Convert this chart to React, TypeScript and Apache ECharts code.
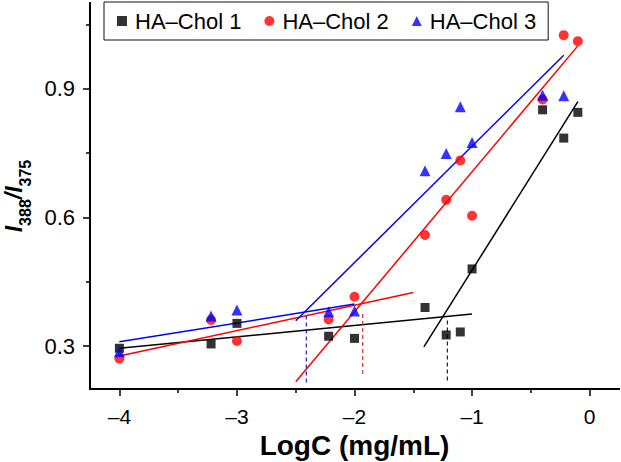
import React, { useEffect, useRef } from "react";
import * as echarts from "echarts";

// ---- data ----
const logC = [-4, -3.22, -3, -2.22, -2, -1.4, -1.22, -1.1, -1, -0.4, -0.22, -0.1];
const chol1 = [0.295, 0.305, 0.353, 0.323, 0.318, 0.39, 0.326, 0.333, 0.48, 0.851, 0.785, 0.845];
const chol2 = [0.271, 0.361, 0.312, 0.362, 0.415, 0.559, 0.641, 0.733, 0.604, 0.875, 1.025, 1.011];
const chol3 = [0.287, 0.37, 0.384, 0.38, 0.382, 0.709, 0.749, 0.858, 0.775, 0.885, 0.884, null];

const seriesNames = ["HA\u2013Chol 1", "HA\u2013Chol 2", "HA\u2013Chol 3"];

// linear fits (start / end)
const fit1Low = [[-4, 0.295], [-1, 0.375]];
const fit1High = [[-1.41, 0.298], [-0.1, 0.87]];
const fit2Low = [[-4, 0.277], [-1.5, 0.425]];
const fit2High = [[-2.5, 0.217], [-0.1, 1.0]];
const fit3Low = [[-4, 0.31], [-2, 0.398]];
const fit3High = [[-2.5, 0.359], [-0.22, 0.978]];

// dashed CMC markers
const cmc1 = [[-1.21, 0.22], [-1.21, 0.365]];
const cmc2 = [[-1.93, 0.235], [-1.93, 0.38]];
const cmc3 = [[-2.41, 0.215], [-2.41, 0.377]];

const xTicks = [-4, -3, -2, -1, 0];
const xMinorTicks = [-3.5, -2.5, -1.5, -0.5];
const yTicks = [0.3, 0.6, 0.9];
const yMinorTicks = [0.45, 0.75, 1.05];

const colors = ["#000000", "#ff0000", "#0000ff"];
const dashColors = ["#222222", "#d03030", "#2020c0"];
const symbols = ["rect", "circle", "triangle"];
const symbolSizes = [9, 10, 11];

const FONT = "'Liberation Sans', Arial, Helvetica, sans-serif";

export default function App() {
  const ref = useRef<HTMLDivElement>(null);

  useEffect(() => {
    document.body.style.margin = "0";
    if (!ref.current) return;
    const chart = echarts.init(ref.current, undefined, { renderer: "svg" });

    const pts = [chol1, chol2, chol3].map((ys) =>
      logC.map((x, i) => [x, ys[i]]).filter((p) => p[1] !== null)
    );

    const lineSeries = (data: number[][], color: string, width: number, dashed = false) => ({
      type: "line",
      data,
      symbol: "none",
      silent: true,
      lineStyle: { color, width, type: dashed ? [4, 3] : "solid" },
      z: 1,
    });

    const fmtX = (v: number) => (v < 0 ? "\u2013" + Math.abs(v) : String(v));
    const axisLine = { show: true, onZero: false, lineStyle: { color: "#000", width: 2 } };

    chart.setOption({
      animation: false,
      backgroundColor: "#ffffff",
      textStyle: { fontFamily: FONT },
      grid: {
        left: 90,
        top: 3,
        width: 529,
        height: 386,
        containLabel: false,
        outerBoundsMode: "none",
      },
      legend: {
        data: seriesNames,
        left: 104,
        top: 2,
        padding: [8, 12, 8, 13],
        borderColor: "#111",
        borderWidth: 1,
        itemWidth: 10,
        itemHeight: 10,
        itemGap: 23,
        textStyle: { fontSize: 22, color: "#000", fontFamily: FONT, padding: [0, 0, 0, 3] },
      },
      xAxis: [
        {
          type: "value",
          min: -4.25,
          max: 0.25,
          name: "LogC (mg/mL)",
          nameLocation: "middle",
          nameGap: 42,
          nameTextStyle: { fontSize: 28, fontWeight: "bold", color: "#000", fontFamily: FONT },
          axisLine,
          axisTick: { show: true, customValues: xTicks, length: 7, lineStyle: { color: "#000", width: 1.5 } },
          axisLabel: { customValues: xTicks, formatter: fmtX, fontSize: 21, color: "#000", margin: 17, fontFamily: FONT },
          splitLine: { show: false },
        },
        {
          type: "value",
          min: -4.25,
          max: 0.25,
          position: "bottom",
          offset: 0,
          axisLine,
          axisTick: { show: true, customValues: xMinorTicks, length: 4, lineStyle: { color: "#000", width: 1.5 } },
          axisLabel: { show: false },
          splitLine: { show: false },
        },
      ],
      yAxis: [
        {
          type: "value",
          min: 0.2,
          max: 1.1,
          position: "left",
          name: "{i|I}{s|388}{i|/I}{s|375}",
          nameLocation: "middle",
          nameRotate: 90,
          nameGap: 55,
          nameTextStyle: {
            rich: {
              i: {
                fontSize: 23,
                fontWeight: "bold",
                fontStyle: "italic",
                fontFamily: FONT,
                color: "#000",
                lineHeight: 23,
                verticalAlign: "bottom",
                padding: [0, 0, 8, 0],
              },
              s: {
                fontSize: 16,
                fontWeight: "bold",
                fontFamily: FONT,
                color: "#000",
                lineHeight: 16,
                verticalAlign: "bottom",
              },
            },
          },
          axisLine,
          axisTick: { show: true, customValues: yTicks, length: 7, lineStyle: { color: "#000", width: 1.5 } },
          axisLabel: {
            customValues: yTicks,
            formatter: (v: number) => v.toFixed(1),
            fontSize: 22,
            color: "#000",
            margin: 15,
            fontFamily: FONT,
          },
          splitLine: { show: false },
        },
        {
          type: "value",
          min: 0.2,
          max: 1.1,
          position: "left",
          offset: 0,
          axisLine,
          axisTick: { show: true, customValues: yMinorTicks, length: 4, lineStyle: { color: "#000", width: 1.5 } },
          axisLabel: { show: false },
          splitLine: { show: false },
        },
      ],
      series: [
        lineSeries(fit1Low, colors[0], 1.5),
        lineSeries(fit1High, colors[0], 1.5),
        lineSeries(fit2Low, colors[1], 1.5),
        lineSeries(fit2High, colors[1], 1.5),
        lineSeries(fit3Low, colors[2], 1.5),
        lineSeries(fit3High, colors[2], 1.5),
        lineSeries(cmc1, dashColors[0], 1.2, true),
        lineSeries(cmc2, dashColors[1], 1.2, true),
        lineSeries(cmc3, dashColors[2], 1.2, true),
        ...seriesNames.map((name, k) => ({
          name,
          type: "scatter",
          data: pts[k],
          symbol: symbols[k],
          symbolSize: symbolSizes[k],
          itemStyle: { color: colors[k] },
          z: 3,
        })),
      ],
    });

    return () => chart.dispose();
  }, []);

  return <div ref={ref} style={{ width: 621, height: 462 }} />;
}
